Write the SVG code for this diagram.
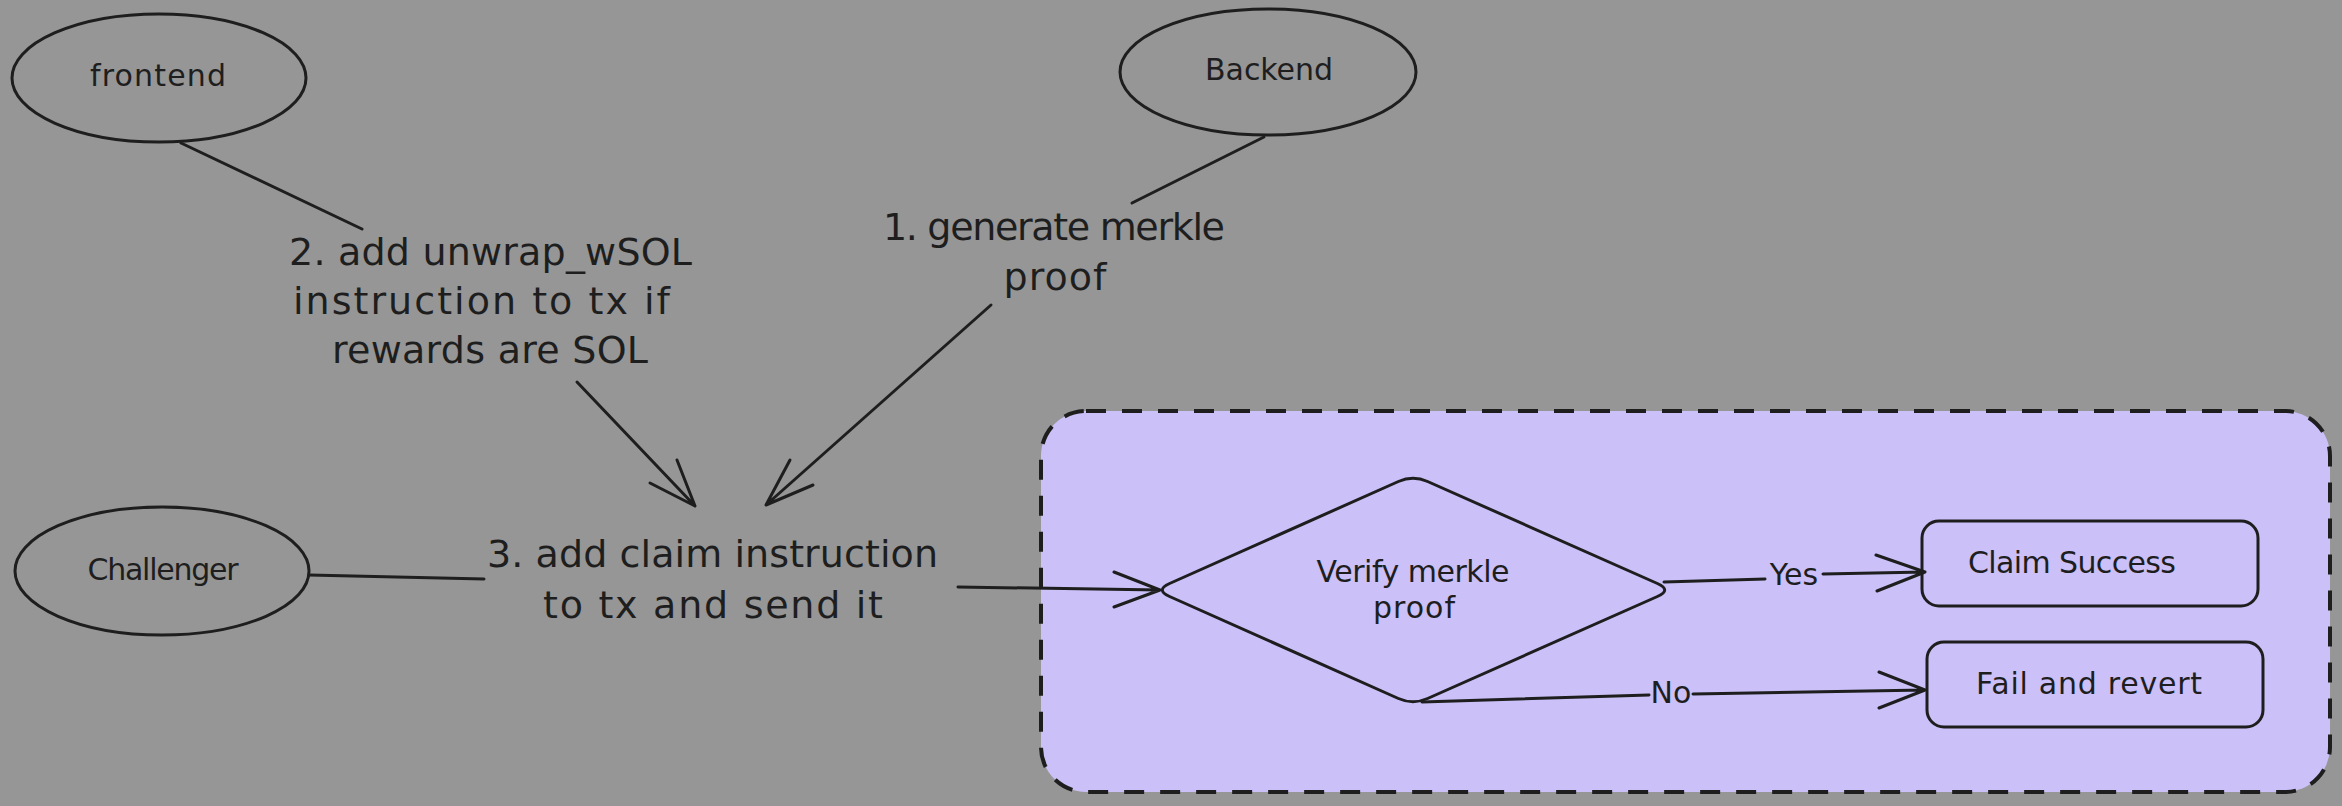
<svg xmlns="http://www.w3.org/2000/svg" width="2342" height="806" viewBox="0 0 2342 806">
<style>
.bg{fill:#969696}
.shape{fill:none;stroke:#1e1e1e;stroke-width:3;stroke-linejoin:round}
.conn{fill:none;stroke:#1e1e1e;stroke-width:3;stroke-linecap:round;stroke-linejoin:round}
.box{fill:#cbc0f8;stroke:#1e1e1e;stroke-width:4;stroke-dasharray:20 16}
.t{font-family:"DejaVu Sans","Liberation Sans",sans-serif;fill:#1e1e1e;text-anchor:middle}
.big{font-size:38px}
.sm{font-size:30px}
</style>
<rect class="bg" x="0" y="0" width="2342" height="806"/>
<g id="container">
<rect class="box" x="1041" y="411" width="1289" height="381" rx="45" ry="45"/>
</g>
<g id="frontend">
<ellipse class="shape" cx="159" cy="78" rx="147" ry="64"/>
<text class="t sm" x="158" y="86" textLength="136">frontend</text>
</g>
<g id="backend">
<ellipse class="shape" cx="1268" cy="72" rx="148" ry="63"/>
<text class="t sm" x="1269" y="80" textLength="128">Backend</text>
</g>
<g id="challenger">
<ellipse class="shape" cx="162" cy="571" rx="147" ry="64"/>
<text class="t sm" x="163" y="580" textLength="151">Challenger</text>
</g>
<g id="step1">
<text class="t big" x="1054" y="240" textLength="342">1. generate merkle</text>
<text class="t big" x="1055" y="290" textLength="103">proof</text>
</g>
<g id="step2">
<text class="t big" x="490.5" y="265" textLength="403">2. add unwrap_wSOL</text>
<text class="t big" x="481.5" y="314" textLength="377">instruction to tx if</text>
<text class="t big" x="490" y="363" textLength="316">rewards are SOL</text>
</g>
<g id="step3">
<text class="t big" x="712.5" y="567" textLength="451">3. add claim instruction</text>
<text class="t big" x="713" y="618" textLength="340">to tx and send it</text>
</g>
<g id="verify">
<path class="shape" d="M1169.6,583.5 L1398.4,481.5 Q1413,475 1427.6,481.5 L1657.4,583.5 Q1672,590 1657.4,596.5 L1427.6,698.5 Q1413,705 1398.4,698.5 L1169.6,596.5 Q1155,590 1169.6,583.5 Z"/>
<text class="t sm" x="1413" y="582" textLength="193">Verify merkle</text>
<text class="t sm" x="1414" y="618" textLength="82">proof</text>
</g>
<g id="success">
<rect class="shape" x="1922" y="521" width="336" height="85" rx="17" ry="17"/>
<text class="t sm" x="2072" y="573" textLength="208">Claim Success</text>
</g>
<g id="fail">
<rect class="shape" x="1927" y="642" width="336" height="85" rx="17" ry="17"/>
<text class="t sm" x="2089" y="694" textLength="226">Fail and revert</text>
</g>
<g id="connectors">
<path class="conn" d="M181,143 L362,229"/>
<path class="conn" d="M1264,137 L1132,203"/>
<path class="conn" d="M309,575 L484,579"/>
<path class="conn" d="M577,382 L695,506 M650,483 L695,506 L677,460"/>
<path class="conn" d="M991,305 L766,505 M813,485 L766,505 L790,460"/>
<path class="conn" d="M958,587 L1160,590 M1114,572 L1160,590 L1114,607"/>
<path class="conn" d="M1664,582 L1765,579 M1823,574 L1925,572 M1876,555 L1925,572 L1877,591"/>
<text class="t sm" x="1794" y="585">Yes</text>
<path class="conn" d="M1422,702 L1649,695 M1693,694 L1925,690 M1879,672 L1925,690 L1879,708"/>
<text class="t sm" x="1671" y="703">No</text>
</g>
</svg>
